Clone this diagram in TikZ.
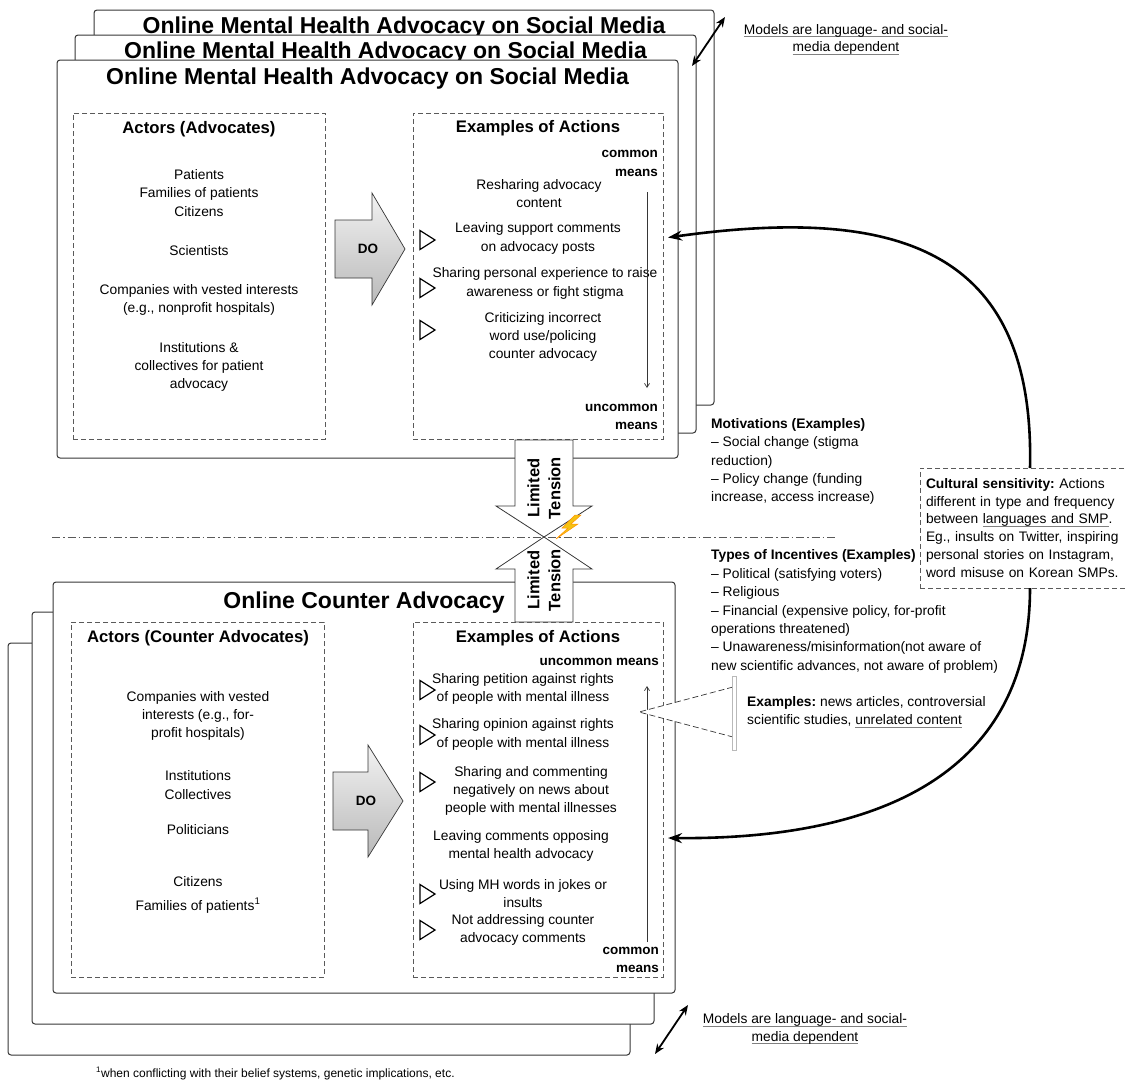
\documentclass[tikz,border=0pt]{standalone}
\usepackage{fontspec}
\setmainfont{Liberation Sans}
\usetikzlibrary{arrows.meta,calc}
\definecolor{edge}{HTML}{363636}
\definecolor{dashc}{HTML}{5A5A5A}
\definecolor{bolt}{HTML}{F5C211}
\newcommand{\fsz}[2]{\fontsize{#1}{#2}\selectfont}
\newsavebox{\gulbox}
\newcommand{\gul}[1]{\sbox\gulbox{#1}\rlap{\color{gray}\rule[-2.6pt]{\wd\gulbox}{0.7pt}}\usebox\gulbox}
\frenchspacing
\begin{document}
\begin{tikzpicture}[x=1pt,y=-1pt,
  panel/.style={draw=edge,line width=1pt,fill=white,rounded corners=3pt,inner sep=0pt,outer sep=0pt,anchor=north west},
  dbox/.style={draw=dashc,line width=0.8pt,dash pattern=on 5pt off 3pt,inner sep=0pt,outer sep=0pt,anchor=north west},
  ttl/.style={font=\fsz{23}{26}\bfseries,inner sep=0pt,anchor=base},
  sec/.style={font=\fsz{16.7}{20}\bfseries,inner sep=0pt},
  txt/.style={font=\fsz{13.8}{18.3},inner sep=0pt,align=center},
  lefttxt/.style={font=\fsz{13.8}{18.4},inner sep=0pt,align=left,anchor=west},
  means/.style={font=\fsz{13.5}{18.5}\bfseries,inner sep=0pt,align=right,anchor=east},
  lt/.style={font=\fsz{16.5}{21}\bfseries,inner sep=0pt,align=center,rotate=90},
  dotext/.style={font=\fsz{13.5}{16}\bfseries,inner sep=0pt},
  doarrow/.style={top color=gray!10,bottom color=gray!55,draw=edge,line width=0.7pt},
  tensarrow/.style={fill=white,draw=edge,line width=0.8pt},
  tri/.style={draw=black,line width=1.2pt},
  thinarrow/.style={draw=edge,line width=0.7pt,-{Straight Barb[length=4pt,width=5pt]}},
  bigarrow/.style={draw=black,line width=2.6pt,-{Stealth[length=14pt,width=10pt]}},
  dblarrow/.style={draw=black,line width=1.8pt,{Stealth[length=10pt,width=8pt]}-{Stealth[length=10pt,width=8pt]}},
  sepline/.style={draw=gray!70!black,line width=0.8pt,dash pattern=on 8pt off 3pt on 1.5pt off 3pt},
  wedgeline/.style={draw=edge,line width=0.7pt,dash pattern=on 6pt off 3pt},
]
\useasboundingbox (0,0) rectangle (1127,1080);

% ---------- top stack ----------
\node[panel,minimum width=620pt,minimum height=395pt] (pA) at (94,10) {};
\node[ttl] (tA) at (404,33.5) {Online Mental Health Advocacy on Social Media};
\node[panel,minimum width=621pt,minimum height=398pt] (pB) at (75,35) {};
\node[ttl] (tB) at (385.5,58.5) {Online Mental Health Advocacy on Social Media};
\node[panel,minimum width=621pt,minimum height=398pt] (pC) at (57,60) {};
\node[ttl] (tC) at (367.5,84) {Online Mental Health Advocacy on Social Media};

% ---------- bottom stack ----------
\node[panel,minimum width=622pt,minimum height=412pt] (pF) at (8,643) {};
\node[panel,minimum width=622pt,minimum height=412pt] (pE) at (32,612) {};
\node[panel,minimum width=622pt,minimum height=411pt] (pD) at (53,582) {};
\node[ttl] (tD) at (364,608) {Online Counter Advocacy};

% ---------- dashed inner boxes ----------
\node[dbox,minimum width=252pt,minimum height=326pt] (actorsT) at (73,113) {};
\node[dbox,minimum width=250pt,minimum height=326pt] (actT) at (413,113) {};
\node[dbox,minimum width=253pt,minimum height=355pt] (actorsB) at (71,622) {};
\node[dbox,minimum width=250pt,minimum height=355pt] (actB) at (413,622) {};

\node[sec] (sAT) at (199,129) {Actors (Advocates)};
\node[sec] (sET) at (538,128.5) {Examples of Actions};
\node[sec] (sAB) at (198,638.5) {Actors (Counter Advocates)};
\node[sec] (sEB) at (538,638.5) {Examples of Actions};

% ---------- top actors ----------
\node[txt] (a1) at (199,193) {Patients\\Families of patients\\Citizens};
\node[txt] (a2) at (199,251) {Scientists};
\node[txt] (a3) at (199,300) {Companies with vested interests\\(e.g., nonprofit hospitals)};
\node[txt] (a4) at (199,367) {Institutions \&\\collectives for patient\\advocacy};

% ---------- top actions ----------
\node[means] (cT) at (658,163.5) {common\\means};
\node[means] (uT) at (658,417) {uncommon\\means};
\node[txt] (e1) at (539,193.5) {Resharing advocacy\\content};
\node[txt] (e2) at (538,238.5) {Leaving support comments\\on advocacy posts};
\node[txt] (e3) at (545,283.5) {Sharing personal experience to raise\\awareness or fight stigma};
\node[txt] (e4) at (543,337) {Criticizing incorrect\\word use/policing\\counter advocacy};
\coordinate (sT) at (647,192);
\coordinate (eT) at (647,388);
\draw[thinarrow] (sT) -- (eT);
\foreach \yy in {240,288,330}
  \draw[tri] (420,\yy) ++(0,-9.5) -- ++(15,9.5) -- ++(-15,9.5) -- cycle;

% ---------- bottom actors ----------
\node[txt] (b1) at (198,716) {Companies with vested\\interests (e.g., for-\\profit hospitals)};
\node[txt] (b2) at (198,785) {Institutions\\Collectives};
\node[txt] (b3) at (198,830) {Politicians};
\node[txt,anchor=base] (b4) at (198,886) {Citizens};
\node[txt,anchor=base] (b5) at (198,910) {Families of patients\textsuperscript{1}};

% ---------- bottom actions ----------
\node[means] (uB) at (659,662) {uncommon means};
\node[means] (cB) at (659,960) {common\\means};
\node[txt] (f1) at (523,689) {Sharing petition against rights\\of people with mental illness};
\node[txt] (f2) at (523,734.5) {Sharing opinion against rights\\of people with mental illness};
\node[txt] (f3) at (531,791) {Sharing and commenting\\negatively on news about\\people with mental illnesses};
\node[txt] (f4) at (521,846) {Leaving comments opposing\\mental health advocacy};
\node[txt] (f5) at (523,893.5) {Using MH words in jokes or\\insults};
\node[txt] (f6) at (523,930) {Not addressing counter\\advocacy comments};
\coordinate (sB) at (647,942);
\coordinate (eB) at (647,686);
\draw[thinarrow] (sB) -- (eB);
\foreach \yy in {690,735,782,894,930}
  \draw[tri] (420,\yy) ++(0,-9.5) -- ++(15,9.5) -- ++(-15,9.5) -- cycle;

% ---------- DO arrows ----------
\shadedraw[doarrow] (335,220) -- (372,220) -- (372,193) -- (405,249) -- (372,305) -- (372,278) -- (335,278) -- cycle;
\node[dotext] (do1) at (368,249) {DO};
\shadedraw[doarrow] (333,772) -- (368,772) -- (368,745) -- (403,801) -- (368,857) -- (368,830) -- (333,830) -- cycle;
\node[dotext] (do2) at (366,801) {DO};

% ---------- separator ----------
\draw[sepline] (52,537) -- (835,537);

% ---------- limited tension ----------
\filldraw[tensarrow] (515,440) -- (573,440) -- (573,506) -- (592,506) -- (544,537) -- (496,506) -- (515,506) -- cycle;
\node[lt] (lt1) at (544,488) {Limited\\Tension};
\filldraw[tensarrow] (515,622) -- (573,622) -- (573,569) -- (592,569) -- (544,537) -- (496,569) -- (515,569) -- cycle;
\node[lt] (lt2) at (544,580) {Limited\\Tension};
\filldraw[fill=bolt,draw=orange!85!yellow,line width=0.5pt,line join=miter] (575,515) -- (562,528) -- (568,528) -- (556,539) -- (578,524) -- (571,524) -- (581,515) -- cycle;

% ---------- right side texts ----------
\node[lefttxt] (mot) at (711,461.5) {\textbf{Motivations (Examples)}\\– Social change (stigma\\reduction)\\– Policy change (funding\\increase, access increase)};
\node[lefttxt] (inc) at (711,611.5) {\textbf{Types of Incentives (Examples)}\\– Political (satisfying voters)\\– Religious\\– Financial (expensive policy, for-profit\\operations threatened)\\– Unawareness/misinformation(not aware of\\new scientific advances, not aware of problem)};

\node[dbox,font=\fsz{13.8}{17.9},text width=210pt,align=left,minimum height=120pt,inner xsep=6pt,inner ysep=0pt,fill=white] (cult) at (920,468)
  {\textbf{Cultural sensitivity:} Actions\\different in type and frequency\\between \gul{languages and SMP}.\\Eg., insults on Twitter, inspiring\\personal stories on Instagram,\\word misuse on Korean SMPs.};
\coordinate (cultN) at (1030,468);
\coordinate (cultS) at (1030,588);

\draw[bigarrow] (cultN) .. controls (1035,250) and (900,205) .. ([xshift=5pt,yshift=38.5pt]actT.east);
\draw[bigarrow] (cultS) .. controls (1030,760) and (900,840) .. ([xshift=5pt,yshift=-38.5pt]actB.east);

% ---------- examples callout ----------
\fill[white] (736,687) -- (639,712) -- (736,737) -- cycle;
\draw[wedgeline] (733,687) -- (639,712) -- (733,737);
\draw[draw=gray!55,fill=white,line width=0.7pt] (732,676) rectangle (736,750);
\node[lefttxt] (ex) at (747,712) {\textbf{Examples:} news articles, controversial\\scientific studies, \gul{unrelated content}};

% ---------- models notes ----------
\coordinate (m1) at (692,66);
\coordinate (m2) at (725,17);
\draw[dblarrow] (m1) -- (m2);
\node[txt,font=\fsz{13.8}{17.5}] (mt1) at (846,39.5) {\gul{Models are language- and social-}\\\gul{media dependent}};
\coordinate (m3) at (655,1054);
\coordinate (m4) at (688,1005);
\draw[dblarrow] (m3) -- (m4);
\node[txt,font=\fsz{13.8}{17.5}] (mt2) at (805,1029) {\gul{Models are language- and social-}\\\gul{media dependent}};

% ---------- footnote ----------
\node[inner sep=0pt,anchor=base west,font=\fsz{12}{14}] (fn) at (96,1077) {\textsuperscript{1}when conflicting with their belief systems, genetic implications, etc.};
\end{tikzpicture}
\end{document}
